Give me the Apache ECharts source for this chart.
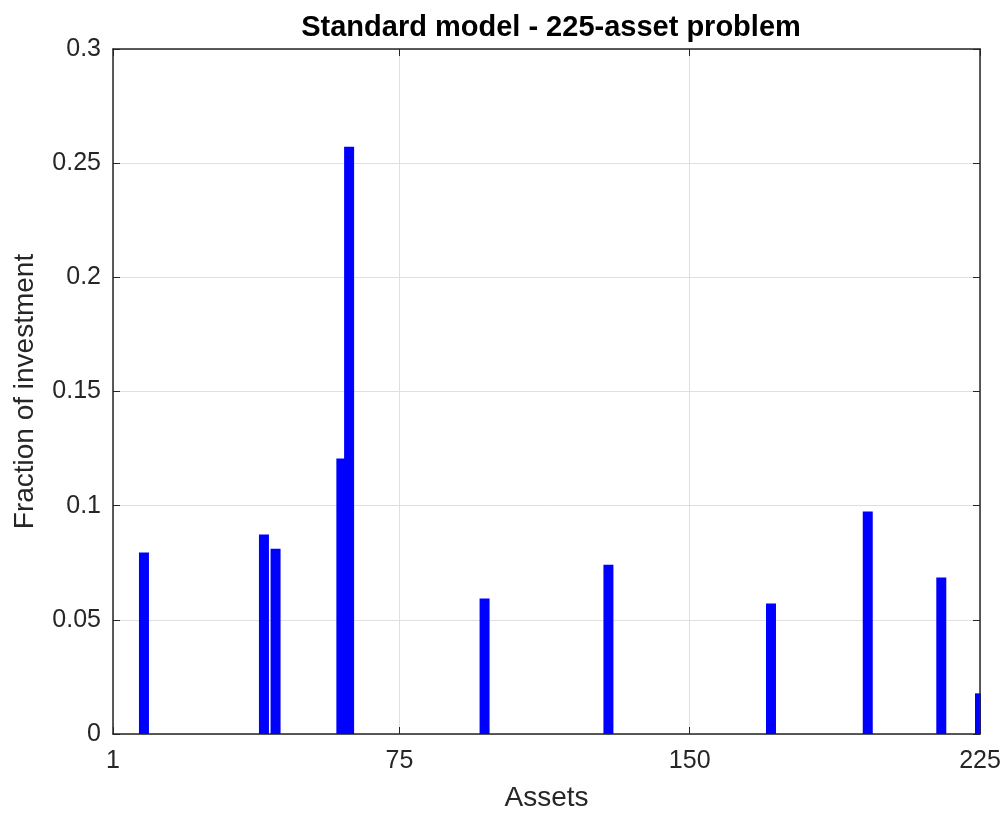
<!DOCTYPE html>
<html>
<head>
<meta charset="utf-8">
<script src="https://cdn.jsdelivr.net/npm/echarts@6/dist/echarts.min.js"></script>
<style>
html,body{margin:0;padding:0;background:#fff;}
#chart{width:1005px;height:817px;}
</style>
</head>
<body>
<div id="chart"></div>
<script>
var assetIndex = [9, 40, 43, 60, 62, 97, 129, 171, 196, 215, 225];
var fraction = [0.0795, 0.0874, 0.0811, 0.1207, 0.2572, 0.0593, 0.0741, 0.0571, 0.0974, 0.0685, 0.0178];
var xTicks = [1, 75, 150, 225];
var yTicks = [0, 0.05, 0.1, 0.15, 0.2, 0.25, 0.3];

var barData = assetIndex.map(function (a, i) { return [a, fraction[i]]; });
var axisCol = '#262626';
var gridCol = '#dfdfdf';
var fontFam = '"Liberation Sans", Arial, Helvetica, sans-serif';

var chart = echarts.init(document.getElementById('chart'), null, {renderer: 'canvas'});
chart.setOption({
  animation: false,
  backgroundColor: '#ffffff',
  title: {
    text: 'Standard model - 225-asset problem',
    left: 546, top: 8, textAlign: 'center',
    textStyle: {fontFamily: fontFam, fontWeight: 'bold', fontSize: 29, color: '#000'}
  },
  grid: {left: 113, right: 25, top: 49, bottom: 80, containLabel: false},
  graphic: [{
    type: 'rect', z: 5, silent: true,
    shape: {x: 981, y: 40, width: 24, height: 696},
    style: {fill: '#ffffff'}
  }],
  xAxis: [{
    type: 'value', min: 1, max: 225, position: 'bottom',
    name: 'Assets', nameLocation: 'middle', nameGap: 50,
    nameTextStyle: {fontFamily: fontFam, fontSize: 28, color: axisCol},
    axisLine: {show: true, onZero: false, lineStyle: {color: axisCol, width: 1.5}},
    axisTick: {show: true, inside: true, length: 7, customValues: xTicks, lineStyle: {color: axisCol}},
    axisLabel: {show: true, customValues: xTicks, margin: 15, fontFamily: fontFam, fontSize: 25, color: axisCol},
    splitLine: {show: true, lineStyle: {color: gridCol, width: 1}}
  }, {
    type: 'value', min: 1, max: 225, position: 'top',
    axisLine: {show: true, onZero: false, lineStyle: {color: axisCol, width: 1.5}},
    axisTick: {show: true, inside: true, length: 7, customValues: xTicks, lineStyle: {color: axisCol}},
    axisLabel: {show: false},
    splitLine: {show: false}
  }],
  yAxis: [{
    type: 'value', min: 0, max: 0.3, interval: 0.05, position: 'left',
    name: 'Fraction of investment', nameLocation: 'middle', nameGap: 74, nameRotate: 90,
    nameTextStyle: {fontFamily: fontFam, fontSize: 28, color: axisCol},
    axisLine: {show: true, onZero: false, lineStyle: {color: axisCol, width: 1.5}},
    axisTick: {show: true, inside: true, length: 7, lineStyle: {color: axisCol}},
    axisLabel: {show: true, margin: 12, fontFamily: fontFam, fontSize: 25, color: axisCol,
      formatter: function (v) { return String(+v.toFixed(2)); }},
    splitLine: {show: true, lineStyle: {color: gridCol, width: 1}}
  }, {
    type: 'value', min: 0, max: 0.3, interval: 0.05, position: 'right', z: 10,
    axisLine: {show: true, onZero: false, lineStyle: {color: axisCol, width: 1.5}},
    axisTick: {show: true, inside: true, length: 7, lineStyle: {color: axisCol}},
    axisLabel: {show: false},
    splitLine: {show: false}
  }],
  series: [{
    type: 'bar',
    xAxisIndex: 0, yAxisIndex: 0,
    data: barData,
    barWidth: 10,
    clip: true,
    itemStyle: {color: '#0000ff', borderColor: '#0000ff', borderWidth: 0}
  }]
});
</script>
</body>
</html>
